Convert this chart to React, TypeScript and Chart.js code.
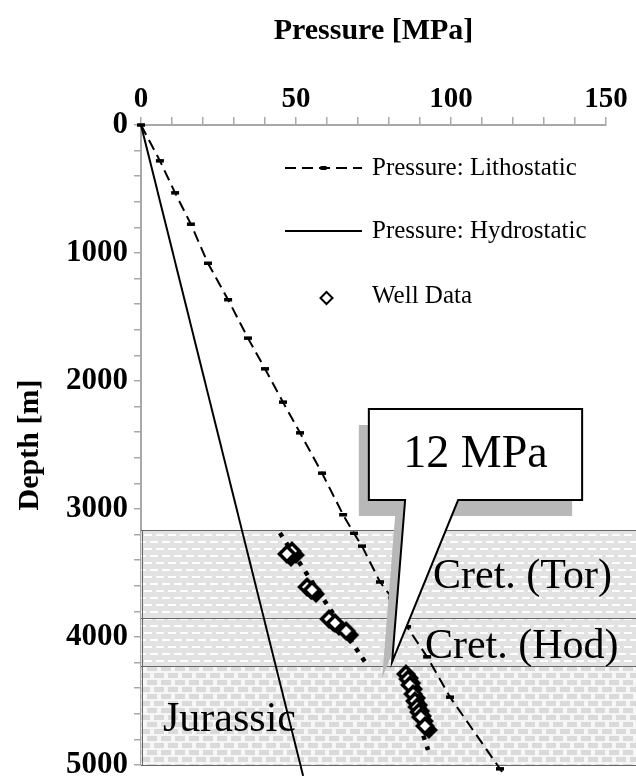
import React, { useEffect, useRef } from 'react';
import { Chart, registerables } from 'chart.js';

Chart.register(...registerables);

// ---------- data ----------
const pressureLabels = [0, 50, 100, 150];
const depthLabels = [0, 1000, 2000, 3000, 4000, 5000];

const lithoDepth = [0, 280, 530, 775, 1080, 1365, 1665, 1905, 2165, 2405, 2720, 3045, 3190, 3290, 3570, 3695, 3920, 4155, 4470, 5030, 5085];
const lithoPressure = [0, 6.1, 11.0, 16.1, 21.6, 28.1, 34.5, 40.0, 45.8, 51.3, 58.4, 65.2, 68.7, 71.3, 77.1, 81.0, 85.8, 92.3, 99.7, 115.8, 117.4];

const hydroDepth = [0, 5085];
const hydroPressure = [0, 52.3];

const wellDepth = [3336, 3359, 3617, 3641, 3867, 3898, 3961, 4297, 4336, 4383, 4453, 4508, 4555, 4594, 4633, 4703];
const wellPressure = [49.0, 47.4, 53.9, 55.5, 61.0, 62.9, 66.5, 85.8, 86.5, 87.1, 88.1, 88.7, 89.4, 90.0, 90.6, 91.9];

const trendCretDepth = [3188, 4219];
const trendCretPressure = [44.8, 72.9];
const trendJurDepth = [4258, 4883];
const trendJurPressure = [84.2, 92.6];

const bandNames = ['Cret. (Tor)', 'Cret. (Hod)', 'Jurassic'];
const bandTop = [3165, 3850, 4230];
const bandBottom = [3850, 4230, 5000];
const bandLabelPressure = [94.2, 91.6, 7.1];
const bandLabelDepth = [3620, 4164, 4735];

const calloutText = '12 MPa';
const calloutBoxPressure = [73.5, 142.3];
const calloutBoxDepth = [2219, 2930];
const calloutBasePressure = [85.2, 102.3];
const calloutTip = [81.0, 4195];

const FONT = '"Liberation Serif", "Times New Roman", serif';

function pts(xs: number[], ys: number[]) {
  return xs.map((x, i) => ({ x, y: ys[i] }));
}

function diamondPath(g: CanvasRenderingContext2D, cx: number, cy: number, r: number) {
  g.beginPath();
  g.moveTo(cx, cy - r);
  g.lineTo(cx + r, cy);
  g.lineTo(cx, cy + r);
  g.lineTo(cx - r, cy);
  g.closePath();
}

function makeWellMarker() {
  const c = document.createElement('canvas');
  c.width = 28;
  c.height = 28;
  const g = c.getContext('2d')!;
  g.fillStyle = '#000';
  diamondPath(g, 17, 17, 9);
  g.fill();
  g.fillStyle = '#fff';
  g.strokeStyle = '#000';
  g.lineWidth = 3.5;
  diamondPath(g, 13, 13, 7.5);
  g.fill();
  g.stroke();
  return c;
}

function makeCretPattern(ctx: CanvasRenderingContext2D) {
  const c = document.createElement('canvas');
  c.width = 12;
  c.height = 14;
  const g = c.getContext('2d')!;
  g.fillStyle = '#e2e2e2';
  g.fillRect(0, 0, 12, 14);
  g.fillStyle = '#ffffff';
  g.fillRect(0, 2, 8, 2);
  g.fillRect(6, 9, 6, 2);
  g.fillRect(0, 9, 2, 2);
  return ctx.createPattern(c, 'repeat')!;
}

function makeJurPattern(ctx: CanvasRenderingContext2D) {
  const c = document.createElement('canvas');
  c.width = 14;
  c.height = 14;
  const g = c.getContext('2d')!;
  g.fillStyle = '#f6f6f6';
  g.fillRect(0, 0, 14, 14);
  g.fillStyle = '#dadada';
  g.fillRect(0, 1, 10, 5);
  g.fillRect(7, 8, 7, 5);
  g.fillRect(0, 8, 3, 5);
  return ctx.createPattern(c, 'repeat')!;
}

const bandsPlugin = {
  id: 'bands',
  beforeDatasetsDraw(chart: any) {
    const { ctx, chartArea, scales } = chart;
    const x = scales.x;
    const y = scales.y;
    const left = chartArea.left;
    const right = chart.width;
    const cret = makeCretPattern(ctx);
    const jur = makeJurPattern(ctx);
    ctx.save();
    bandNames.forEach((_n, i) => {
      const t = y.getPixelForValue(bandTop[i]);
      const b = y.getPixelForValue(bandBottom[i]);
      ctx.fillStyle = i < 2 ? cret : jur;
      ctx.fillRect(left, t, right - left, b - t);
    });
    ctx.strokeStyle = '#666';
    ctx.lineWidth = 1;
    const top0 = y.getPixelForValue(bandTop[0]);
    const botN = y.getPixelForValue(bandBottom[bandBottom.length - 1]);
    bandNames.forEach((_n, i) => {
      const t = Math.round(y.getPixelForValue(bandTop[i])) + 0.5;
      ctx.beginPath();
      ctx.moveTo(left, t);
      ctx.lineTo(right, t);
      ctx.stroke();
    });
    ctx.beginPath();
    ctx.moveTo(left, Math.round(botN) + 0.5);
    ctx.lineTo(right, Math.round(botN) + 0.5);
    ctx.stroke();
    ctx.beginPath();
    ctx.moveTo(left + 1.5, top0);
    ctx.lineTo(left + 1.5, botN);
    ctx.stroke();
    ctx.fillStyle = '#000';
    ctx.font = `42px ${FONT}`;
    ctx.textBaseline = 'alphabetic';
    ctx.textAlign = 'left';
    bandNames.forEach((n, i) => {
      ctx.fillText(n, x.getPixelForValue(bandLabelPressure[i]), y.getPixelForValue(bandLabelDepth[i]));
    });
    ctx.restore();
  },
};

const calloutPlugin = {
  id: 'callout',
  afterDatasetsDraw(chart: any) {
    const { ctx, scales } = chart;
    const x = scales.x;
    const y = scales.y;
    const L = x.getPixelForValue(calloutBoxPressure[0]);
    const R = x.getPixelForValue(calloutBoxPressure[1]);
    const T = y.getPixelForValue(calloutBoxDepth[0]);
    const B = y.getPixelForValue(calloutBoxDepth[1]);
    const bl = x.getPixelForValue(calloutBasePressure[0]);
    const br = x.getPixelForValue(calloutBasePressure[1]);
    const tx = x.getPixelForValue(calloutTip[0]);
    const ty = y.getPixelForValue(calloutTip[1]);
    const path = (dx: number, dy: number) => {
      ctx.beginPath();
      ctx.moveTo(L + dx, T + dy);
      ctx.lineTo(R + dx, T + dy);
      ctx.lineTo(R + dx, B + dy);
      ctx.lineTo(br + dx, B + dy);
      ctx.lineTo(tx + dx, ty + dy);
      ctx.lineTo(bl + dx, B + dy);
      ctx.lineTo(L + dx, B + dy);
      ctx.closePath();
    };
    ctx.save();
    ctx.fillStyle = '#b8b8b8';
    path(-10, 16);
    ctx.fill();
    ctx.fillStyle = '#fff';
    ctx.strokeStyle = '#000';
    ctx.lineWidth = 2;
    ctx.lineJoin = 'miter';
    path(0, 0);
    ctx.fill();
    ctx.stroke();
    ctx.fillStyle = '#000';
    ctx.font = `46px ${FONT}`;
    ctx.textAlign = 'center';
    ctx.textBaseline = 'alphabetic';
    ctx.fillText(calloutText, (L + R) / 2, T + 58);
    ctx.restore();
  },
};

const legendPlugin = {
  id: 'innerLegend',
  afterDraw(chart: any) {
    const { ctx, chartArea } = chart;
    const x1 = chartArea.left + 144;
    const x2 = chartArea.left + 221;
    const tx = chartArea.left + 231;
    const rows = [43, 106, 171];
    ctx.save();
    ctx.font = `25px ${FONT}`;
    ctx.textBaseline = 'middle';
    ctx.textAlign = 'left';
    const items = chart.data.datasets.filter((d: any) => d.label);
    items.forEach((d: any, i: number) => {
      const yy = chartArea.top + rows[i];
      ctx.strokeStyle = '#000';
      ctx.fillStyle = '#000';
      if (d.showLine) {
        ctx.lineWidth = d.borderWidth;
        ctx.setLineDash(d.borderDash || []);
        ctx.beginPath();
        ctx.moveTo(x1, yy);
        ctx.lineTo(x2, yy);
        ctx.stroke();
        ctx.setLineDash([]);
        if (d.pointRadius > 0) {
          ctx.fillRect((x1 + x2) / 2 - 3, yy - 2, 6, 4);
        }
      } else {
        ctx.fillStyle = '#fff';
        ctx.lineWidth = 2;
        diamondPath(ctx, (x1 + x2) / 2 + 3, yy + 2, 6);
        ctx.fill();
        ctx.stroke();
      }
      ctx.fillStyle = '#000';
      ctx.fillText(d.label, tx, yy);
    });
    ctx.restore();
  },
};

export default function App() {
  const ref = useRef<HTMLCanvasElement | null>(null);

  useEffect(() => {
    if (!ref.current) return;
    const wellMarker = makeWellMarker();
    const chart = new Chart(ref.current, {
      type: 'scatter',
      data: {
        datasets: [
          {
            label: 'Pressure: Lithostatic',
            data: pts(lithoPressure, lithoDepth),
            showLine: true,
            borderColor: '#000',
            backgroundColor: '#000',
            borderWidth: 2,
            borderDash: [11, 6],
            pointStyle: 'line',
            pointRadius: 4,
            pointBorderWidth: 3.5,
            pointBorderColor: '#000',
            clip: false,
            order: 2,
          } as any,
          {
            label: 'Pressure: Hydrostatic',
            data: pts(hydroPressure, hydroDepth),
            showLine: true,
            borderColor: '#000',
            borderWidth: 2,
            pointRadius: 0,
            clip: false,
            order: 3,
          } as any,
          {
            label: 'Well Data',
            data: pts(wellPressure, wellDepth),
            showLine: false,
            pointStyle: wellMarker,
            pointRadius: 10,
            order: 0,
          } as any,
          {
            data: pts(trendCretPressure, trendCretDepth),
            showLine: true,
            borderColor: '#000',
            borderWidth: 4.5,
            borderDash: [4.5, 7],
            pointRadius: 0,
            order: 1,
          } as any,
          {
            data: pts(trendJurPressure, trendJurDepth),
            showLine: true,
            borderColor: '#000',
            borderWidth: 4.5,
            borderDash: [4.5, 7],
            pointRadius: 0,
            order: 1,
          } as any,
        ],
      },
      options: {
        animation: false,
        responsive: false,
        devicePixelRatio: 1,
        layout: { padding: { left: 0, top: 0, right: 30, bottom: 18 } },
        plugins: {
          legend: { display: false },
          tooltip: { enabled: false },
        },
        scales: {
          x: {
            type: 'linear',
            position: 'top',
            min: 0,
            max: 150,
            afterFit: (s: any) => {
              s.height = 125;
              s.paddingLeft = 0;
              s.paddingRight = 0;
            },
            ticks: {
              stepSize: 10,
              autoSkip: false,
              maxRotation: 0,
              padding: 0,
              color: '#000',
              font: { family: FONT, size: 29, weight: 'bold' },
              callback: (v: any) => (pressureLabels.includes(Number(v)) ? String(v) : ''),
            },
            grid: { drawOnChartArea: false, drawTicks: true, tickLength: 8, color: '#a8a8a8', lineWidth: 1.5 },
            border: { display: true, color: '#a8a8a8', width: 2 },
            title: {
              display: true,
              text: 'Pressure [MPa]',
              color: '#000',
              font: { family: FONT, size: 30, weight: 'bold' },
              padding: { top: 13, bottom: 0 },
            },
          },
          y: {
            type: 'linear',
            reverse: true,
            min: 0,
            max: 5000,
            afterFit: (s: any) => {
              s.width = 141;
              s.paddingTop = 0;
              s.paddingBottom = 0;
            },
            ticks: {
              stepSize: 200,
              autoSkip: false,
              padding: 6,
              color: '#000',
              font: { family: FONT, size: 31, weight: 'bold' },
              callback: (v: any) => (depthLabels.includes(Number(v)) ? String(v) : ''),
            },
            grid: { drawOnChartArea: false, drawTicks: true, tickLength: 7, color: '#a8a8a8', lineWidth: 1.5 },
            border: { display: true, color: '#a8a8a8', width: 2 },
            title: {
              display: true,
              text: 'Depth [m]',
              color: '#000',
              font: { family: FONT, size: 30, weight: 'bold' },
              padding: { top: 12, bottom: 0 },
            },
          },
        },
      },
      plugins: [bandsPlugin, calloutPlugin, legendPlugin],
    });
    return () => chart.destroy();
  }, []);

  return (
    <div style={{ position: 'absolute', left: 0, top: 0, width: 636, height: 783, background: '#fff' }}>
      <canvas ref={ref} width={636} height={783} style={{ display: 'block' }} />
    </div>
  );
}
